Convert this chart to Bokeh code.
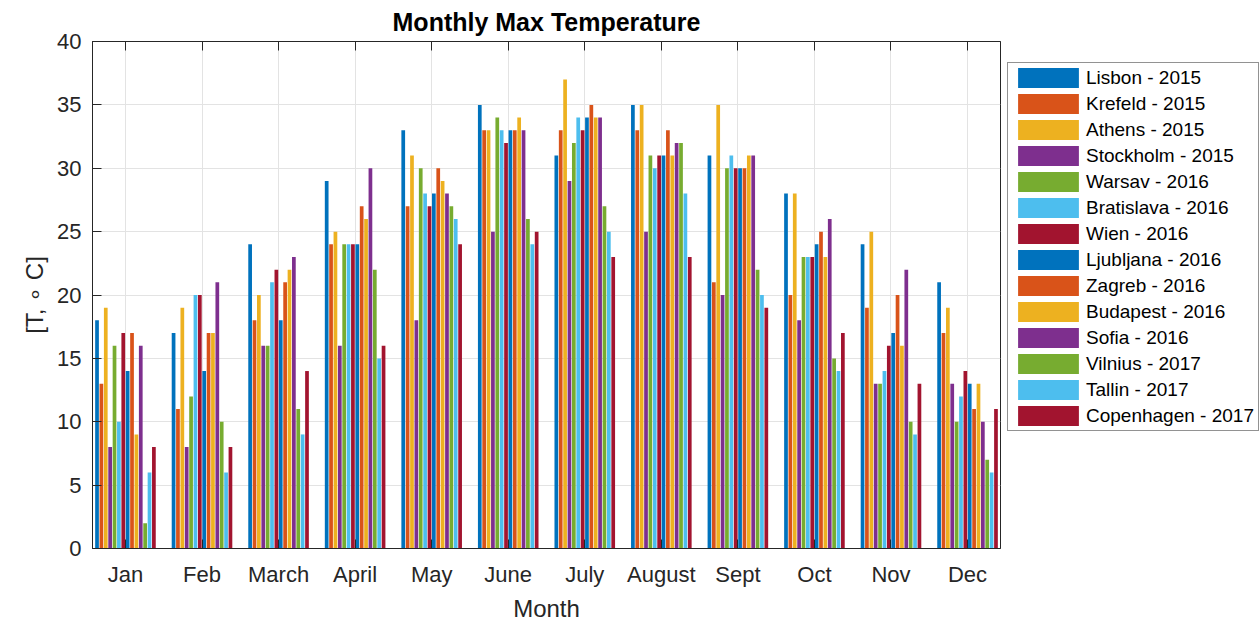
from bokeh.plotting import figure
from bokeh.models import (ColumnDataSource, Range1d, FixedTicker, LinearAxis,
                          Legend, LegendItem)
from bokeh.transform import dodge
from bokeh.embed import file_html
from bokeh.resources import INLINE

months = ["Jan", "Feb", "March", "April", "May", "June", "July", "August",
          "Sept", "Oct", "Nov", "Dec"]
month_pos = list(range(1, 13))

cities = ["Lisbon - 2015", "Krefeld - 2015", "Athens - 2015", "Stockholm - 2015",
          "Warsav - 2016", "Bratislava - 2016", "Wien - 2016", "Ljubljana - 2016",
          "Zagreb - 2016", "Budapest - 2016", "Sofia - 2016", "Vilnius - 2017",
          "Tallin - 2017", "Copenhagen - 2017"]

lisbon = [18, 17, 24, 29, 33, 35, 31, 35, 31, 28, 24, 21]
krefeld = [13, 11, 18, 24, 27, 33, 33, 33, 21, 20, 19, 17]
athens = [19, 19, 20, 25, 31, 33, 37, 35, 35, 28, 25, 19]
stockholm = [8, 8, 16, 16, 18, 25, 29, 25, 20, 18, 13, 13]
warsav = [16, 12, 16, 24, 30, 34, 32, 31, 30, 23, 13, 10]
bratislava = [10, 20, 21, 24, 28, 33, 34, 30, 31, 23, 14, 12]
wien = [17, 20, 22, 24, 27, 32, 33, 31, 30, 23, 16, 14]
ljubljana = [14, 14, 18, 24, 28, 33, 34, 31, 30, 24, 17, 13]
zagreb = [17, 17, 21, 27, 30, 33, 35, 33, 30, 25, 20, 11]
budapest = [9, 17, 22, 26, 29, 34, 34, 31, 31, 23, 16, 13]
sofia = [16, 21, 23, 30, 28, 33, 34, 32, 31, 26, 22, 10]
vilnius = [2, 10, 11, 22, 27, 26, 27, 32, 22, 15, 10, 7]
tallin = [6, 6, 9, 15, 26, 24, 25, 28, 20, 14, 9, 6]
copenhagen = [8, 8, 14, 16, 24, 25, 23, 23, 19, 17, 13, 11]

series = [lisbon, krefeld, athens, stockholm, warsav, bratislava, wien,
          ljubljana, zagreb, budapest, sofia, vilnius, tallin, copenhagen]

colors = ["#0072BD", "#D95319", "#EDB120", "#7E2F8E", "#77AC30", "#4DBEEE",
          "#A2142F"] * 2

FONT = "Liberation Sans"
TXT = "#262626"

p = figure(frame_width=908, frame_height=507, output_backend="svg",
           toolbar_location=None,
           x_range=Range1d(0.5695, 12.4305), y_range=Range1d(0, 40),
           min_border_left=92, min_border_right=259, min_border_top=40,
           min_border_bottom=73)

p.title.text = "Monthly Max Temperature"
p.title.align = "center"
p.title.text_font = FONT
p.title.text_font_size = "25px"
p.title.text_font_style = "bold"
p.title.text_color = "#000000"
p.title.standoff = 11

n = len(series)
group_w = 0.8
slot = group_w / n
bar_w = slot * 0.85

src_data = {"month": month_pos}
for i, s in enumerate(series):
    src_data[f"s{i}"] = s
source = ColumnDataSource(src_data)

items = []
for i in range(n):
    off = (i - (n - 1) / 2) * slot
    r = p.vbar(x=dodge("month", off, range=p.x_range), top=f"s{i}", width=bar_w,
               bottom=0, source=source, fill_color=colors[i], line_color=None)
    items.append(LegendItem(label=cities[i], renderers=[r]))

xt = FixedTicker(ticks=month_pos)
yt = FixedTicker(ticks=list(range(0, 41, 5)))
overrides = {m: lab for m, lab in zip(month_pos, months)}

for ax in p.xaxis:
    ax.ticker = xt
    ax.major_label_overrides = overrides
for ax in p.yaxis:
    ax.ticker = yt

for ax in list(p.xaxis) + list(p.yaxis):
    ax.major_tick_in = 9
    ax.major_tick_out = 0
    ax.minor_tick_in = 0
    ax.minor_tick_out = 0
    ax.axis_line_color = TXT
    ax.major_tick_line_color = TXT
    ax.major_label_text_font = FONT
    ax.major_label_text_font_size = "22px"
    ax.major_label_text_color = TXT
    ax.axis_label_text_font = FONT
    ax.axis_label_text_font_style = "normal"
    ax.axis_label_text_color = TXT

p.xaxis.axis_label = "Month"
p.xaxis.axis_label_text_font_size = "24px"
p.xaxis.major_label_standoff = 13
p.xaxis.axis_label_standoff = 5
p.yaxis.axis_label = "[T, \u2218 C]"
p.yaxis.axis_label_text_font_size = "24px"
p.yaxis.major_label_standoff = 11
p.yaxis.axis_label_standoff = 6

# mirrored tick marks on top (no labels)
top_ax = LinearAxis(ticker=xt, major_tick_in=9, major_tick_out=0,
                    minor_tick_in=0, minor_tick_out=0,
                    major_label_overrides={m: "" for m in month_pos},
                    major_label_standoff=0,
                    axis_line_color=TXT, major_tick_line_color=TXT)
p.add_layout(top_ax, "above")

p.outline_line_color = TXT
p.xgrid.grid_line_color = "#e3e3e3"
p.ygrid.grid_line_color = "#e3e3e3"
p.xgrid.ticker = xt
p.ygrid.ticker = yt

legend = Legend(items=items, location=(7, 117), margin=0, ncols=1,
                glyph_width=76, glyph_height=25, label_standoff=0,
                label_width=170, spacing=1, padding=2,
                label_text_font=FONT, label_text_font_size="19px",
                label_text_color="#000000",
                border_line_color="#262626", border_line_width=1,
                background_fill_color="white")
p.add_layout(legend, "right")

p.background_fill_color = "white"
p.border_fill_color = "white"

open("out.html", "w").write(file_html(p, INLINE))
